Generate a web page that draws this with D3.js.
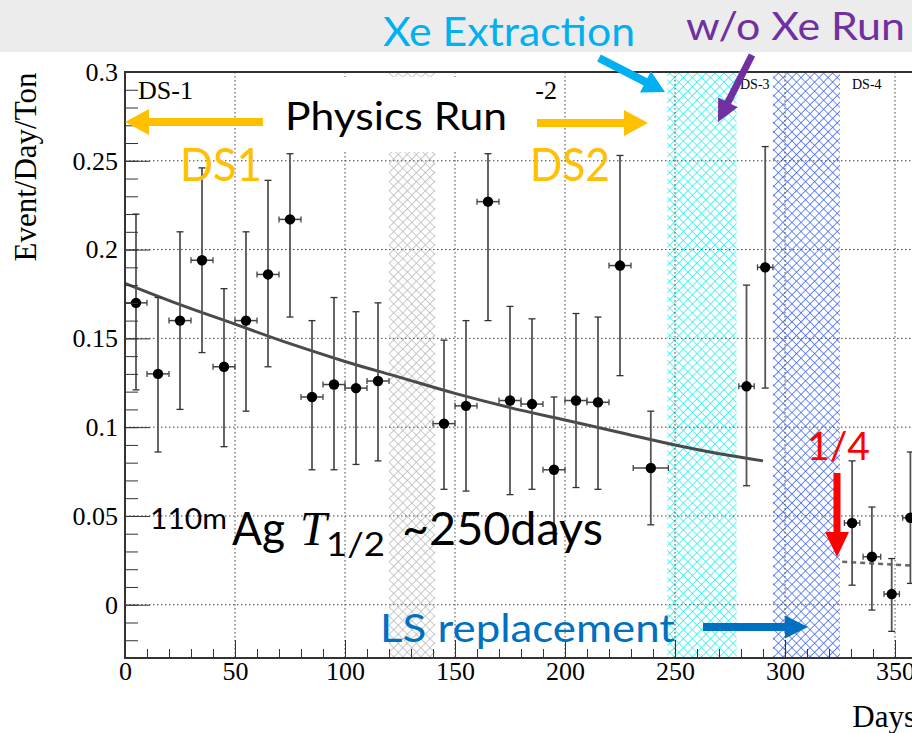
<!DOCTYPE html>
<meta charset="utf-8">
<style>
body { margin: 0; background: #fff; }
svg { display: block; }
.grid line { stroke: #444; stroke-width: 1; stroke-dasharray: 1.5,2.5; }
.axis text { font-family: "Liberation Serif", serif; font-size: 26px; fill: #000; }
.axis line { stroke: #333; }
.axis path { display: none; }
.note { font-family: Lato, "Open Sans", sans-serif; }
</style>
<svg width="912" height="733"></svg>
<script src="https://d3js.org/d3.v7.min.js"></script>
<script>

// bin centre (days), rate, error bar ends, half bin width
var days   = [5, 15, 25, 35, 45, 55, 65, 75, 85, 95, 105, 115,
              145, 155, 165, 175, 185, 195, 205, 215, 225, 239,
              282.5, 291, 330.5, 339.5, 348.5, 357];
var rate   = [0.170, 0.130, 0.160, 0.194, 0.134, 0.160, 0.186, 0.217, 0.117, 0.124, 0.122, 0.126,
              0.102, 0.112, 0.227, 0.115, 0.113, 0.076, 0.115, 0.114, 0.191, 0.077,
              0.123, 0.190, 0.046, 0.027, 0.006, 0.049];
var rateHi = [0.220, 0.173, 0.210, 0.246, 0.178, 0.210, 0.239, 0.254, 0.160, 0.173, 0.165, 0.170,
              0.149, 0.160, 0.254, 0.168, 0.161, 0.117, 0.164, 0.162, 0.253, 0.109,
              0.180, 0.258, 0.081, 0.055, 0.026, 0.086];
var rateLo = [0.121, 0.086, 0.110, 0.142, 0.089, 0.109, 0.134, 0.162, 0.076, 0.076, 0.079, 0.081,
              0.065, 0.064, 0.160, 0.062, 0.065, 0.040, 0.066, 0.065, 0.129, 0.045,
              0.067, 0.122, 0.011, -0.003, -0.015, 0.012];
var dayErr = [5, 5, 5, 5, 5, 5, 5, 5, 5, 5, 5, 5,
              5, 5, 5, 5, 5, 5, 5, 5, 5, 8,
              3.5, 3.5, 3.5, 4, 3.5, 3.5];

// fitted decay curve and the scaled-down dashed continuation
var fitDays = [0, 25, 50, 75, 100, 125, 150, 175, 200, 225, 250, 275, 290];
var fitVals = [0.181, 0.169, 0.158, 0.147, 0.137, 0.128, 0.119, 0.111, 0.104, 0.097, 0.090, 0.084, 0.081];
var dashDays = [326, 358];
var dashVals = [0.0242, 0.0220];

// hatched periods [start, end] in days
var bandNames = ["gap", "xe", "ls"];
var bandStart = [120, 246.5, 294.5];
var bandEnd   = [141, 278, 325];

var xTicks = [0, 50, 100, 150, 200, 250, 300, 350];
var yTicks = [0, 0.05, 0.1, 0.15, 0.2, 0.25, 0.3];

var svg = d3.select("svg");
var pLeft = 125, pTop = 72, pBottom = 658;

var x = d3.scaleLinear().domain([0, 400]).range([pLeft, pLeft + 880]);
var y = d3.scaleLinear().domain([-0.03, 0.3]).range([pBottom, pTop]);

// slide header strip
svg.append("rect").attr("x", 0).attr("y", 0).attr("width", 912).attr("height", 52).attr("fill", "#ececec");

// hatch patterns
var defs = svg.append("defs");
var hatchCol = {gap: "#b8b8b8", xe: "#22f0f0", ls: "#3a64f2"};
bandNames.forEach(function(n) {
  var p = defs.append("pattern").attr("id", "h-" + n)
    .attr("patternUnits", "userSpaceOnUse").attr("width", 6.4).attr("height", 6.4)
    .attr("patternTransform", "rotate(45)");
  p.append("path").attr("d", "M0,0H6.4M0,0V6.4")
    .attr("stroke", hatchCol[n]).attr("stroke-width", 1.5).attr("fill", "none");
});

svg.selectAll(".band").data(bandNames).enter().append("rect")
  .attr("class", "band")
  .attr("x", function(d, i) { return x(bandStart[i]); })
  .attr("width", function(d, i) { return x(bandEnd[i]) - x(bandStart[i]); })
  .attr("y", pTop).attr("height", pBottom - pTop)
  .attr("fill", function(d) { return "url(#h-" + d + ")"; });

// grid
var grid = svg.append("g").attr("class", "grid");
grid.selectAll(".gx").data(xTicks.filter(function(d) { return d > 0; })).enter().append("line")
  .attr("x1", function(d) { return x(d); }).attr("x2", function(d) { return x(d); })
  .attr("y1", pTop).attr("y2", pBottom);
grid.selectAll(".gy").data(yTicks.filter(function(d) { return d < 0.3; })).enter().append("line")
  .attr("x1", pLeft).attr("x2", 912)
  .attr("y1", function(d) { return y(d); }).attr("y2", function(d) { return y(d); });

// fit
var line = d3.line().x(function(d) { return x(d[0]); }).y(function(d) { return y(d[1]); }).curve(d3.curveMonotoneX);
svg.append("path").datum(d3.zip(fitDays, fitVals)).attr("d", line)
  .attr("fill", "none").attr("stroke", "#4a4a4a").attr("stroke-width", 3);
svg.append("path").datum(d3.zip(dashDays, dashVals)).attr("d", line)
  .attr("fill", "none").attr("stroke", "#666").attr("stroke-width", 2.5).attr("stroke-dasharray", "5,4");

// data points
var pts = svg.append("g").selectAll("g").data(days).enter().append("g");
pts.append("line")
  .attr("x1", function(d) { return x(d); }).attr("x2", function(d) { return x(d); })
  .attr("y1", function(d, i) { return y(rateHi[i]); }).attr("y2", function(d, i) { return y(rateLo[i]); })
  .attr("stroke", "#555").attr("stroke-width", 1.8);
pts.append("line")
  .attr("x1", function(d) { return x(d) - 3.5; }).attr("x2", function(d) { return x(d) + 3.5; })
  .attr("y1", function(d, i) { return y(rateHi[i]); }).attr("y2", function(d, i) { return y(rateHi[i]); })
  .attr("stroke", "#333").attr("stroke-width", 1.3);
pts.append("line")
  .attr("x1", function(d) { return x(d) - 3.5; }).attr("x2", function(d) { return x(d) + 3.5; })
  .attr("y1", function(d, i) { return y(rateLo[i]); }).attr("y2", function(d, i) { return y(rateLo[i]); })
  .attr("stroke", "#333").attr("stroke-width", 1.3);
pts.append("line")
  .attr("x1", function(d, i) { return x(d - dayErr[i]); }).attr("x2", function(d, i) { return x(d + dayErr[i]); })
  .attr("y1", function(d, i) { return y(rate[i]); }).attr("y2", function(d, i) { return y(rate[i]); })
  .attr("stroke", "#444").attr("stroke-width", 1.5);
[-1, 1].forEach(function(s) {
  pts.append("line")
    .attr("x1", function(d, i) { return x(d + s * dayErr[i]); }).attr("x2", function(d, i) { return x(d + s * dayErr[i]); })
    .attr("y1", function(d, i) { return y(rate[i]) - 3; }).attr("y2", function(d, i) { return y(rate[i]) + 3; })
    .attr("stroke", "#444").attr("stroke-width", 1.3);
});
pts.append("circle")
  .attr("cx", function(d) { return x(d); })
  .attr("cy", function(d, i) { return y(rate[i]); })
  .attr("r", 5.2).attr("fill", "#000");

// axes
var minorY = d3.range(-0.03, 0.3001, 0.01).map(function(v) { return +v.toFixed(2); });
var minorX = d3.range(0, 361, 10);
svg.append("g").attr("class", "axis").attr("transform", "translate(" + pLeft + ",0)")
  .call(d3.axisLeft(y).tickValues(minorY).tickSize(-13).tickFormat(""));
svg.append("g").attr("class", "axis").attr("transform", "translate(" + pLeft + ",0)")
  .call(d3.axisLeft(y).tickValues(yTicks).tickSize(-25).tickPadding(7).tickFormat(d3.format("")));
svg.append("g").attr("class", "axis").attr("transform", "translate(0," + pBottom + ")")
  .call(d3.axisBottom(x).tickValues(minorX).tickSize(-9).tickFormat(""));
svg.append("g").attr("class", "axis").attr("transform", "translate(0," + pBottom + ")")
  .call(d3.axisBottom(x).tickValues(xTicks).tickSize(-18).tickPadding(4).tickFormat(d3.format("")));

// frame
svg.append("path").attr("d", "M912," + pTop + "H" + pLeft + "V" + pBottom + "H912")
  .attr("fill", "none").attr("stroke", "#333").attr("stroke-width", 2);

// axis titles
svg.append("text").attr("transform", "translate(36,167) rotate(-90)")
  .attr("text-anchor", "middle").style("font-family", "Liberation Serif, serif").style("font-size", "31px")
  .text("Event/Day/Ton");
svg.append("text").attr("x", 916).attr("y", 727).attr("text-anchor", "end")
  .style("font-family", "Liberation Serif, serif").style("font-size", "31px").text("Days");

// dataset labels
function serif(t, xx, yy, size, anchor) {
  svg.append("text").attr("x", xx).attr("y", yy).attr("text-anchor", anchor || "start")
    .style("font-family", "Liberation Serif, serif").style("font-size", size + "px").text(t);
}
serif("DS-1", 138, 99, 26);
serif("DS-2", 557, 99, 26, "end");
serif("DS-3", 740, 89, 14);
serif("DS-4", 852, 89, 14);

// white box of the "Physics Run" callout
svg.append("rect").attr("x", 256).attr("y", 77).attr("width", 279).attr("height", 75).attr("fill", "#fff");

// callouts
function arrow(x1, y1, x2, y2, w, hw, hl, col) {
  var dx = x2 - x1, dy = y2 - y1, L = Math.sqrt(dx * dx + dy * dy);
  var ux = dx / L, uy = dy / L, nx = -uy, ny = ux;
  var bx = x2 - ux * hl, by = y2 - uy * hl;
  var p = [
    [x1 + nx * w / 2, y1 + ny * w / 2], [bx + nx * w / 2, by + ny * w / 2], [bx + nx * hw / 2, by + ny * hw / 2],
    [x2, y2],
    [bx - nx * hw / 2, by - ny * hw / 2], [bx - nx * w / 2, by - ny * w / 2], [x1 - nx * w / 2, y1 - ny * w / 2]
  ];
  svg.append("path").attr("d", "M" + p.join("L") + "Z").attr("fill", col);
}
function note(t, xx, yy, size, len, col) {
  var el = svg.append("text").attr("class", "note").attr("x", xx).attr("y", yy)
    .style("font-size", size + "px").attr("fill", col || "#000").text(t);
  if (len) el.attr("textLength", len).attr("lengthAdjust", "spacingAndGlyphs");
  return el;
}

note("Physics Run", 285, 130, 39, 222);
arrow(263, 122, 125, 122, 8, 26, 24, "#ffc000");
arrow(537, 123, 648, 123, 8, 26, 24, "#ffc000");
note("DS1", 180, 181, 46, 82, "#ffc000");
note("DS2", 530, 181, 46, 80, "#ffc000");

note("Xe Extraction", 383, 46, 40, 252, "#00b0f0");
arrow(599, 58, 665, 92, 8, 24, 22, "#00b0f0");
note("w/o Xe Run", 686, 40, 39, 219, "#7030a0");
arrow(752, 55, 718, 122, 7, 22, 22, "#7030a0");

note("1/4", 807, 460, 39, 63, "#ff0000");
arrow(837, 473, 837, 557, 7, 24, 25, "#ff0000");

note("LS replacement", 380, 642, 39, 295, "#0070c0");
arrow(703, 627, 808, 627, 8, 23, 23, "#0070c0");

note("110m", 150, 529, 29, 77);
note("Ag", 232, 545, 46, 53);
svg.append("text").attr("x", 300).attr("y", 545)
  .style("font-family", "Liberation Serif, serif").style("font-style", "italic").style("font-size", "48px").text("T");
note("1/2", 326, 556, 32, 59);
note("~250days", 402, 545, 46, 201);

</script>
